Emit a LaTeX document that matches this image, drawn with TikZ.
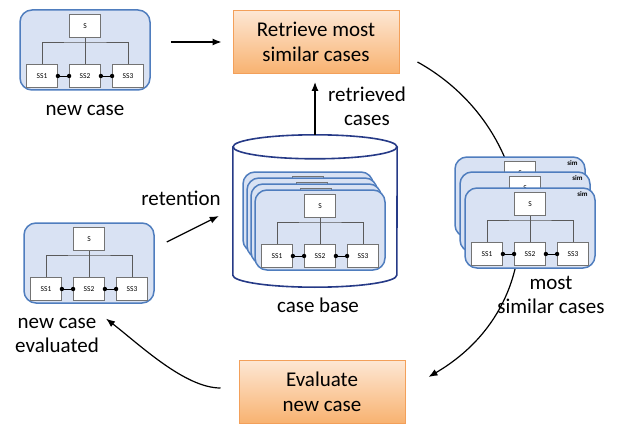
\documentclass[tikz,border=0pt]{standalone}
\usepackage{fontspec}
\setmainfont{Carlito}
\usetikzlibrary{arrows.meta,positioning,calc}
\definecolor{cardfill}{RGB}{217,226,243}
\definecolor{cardline}{RGB}{79,125,190}
\definecolor{cylline}{RGB}{38,58,135}
\definecolor{subline}{RGB}{115,115,115}
\definecolor{treegray}{RGB}{90,90,90}
\definecolor{boxtop}{RGB}{253,231,212}
\definecolor{boxbottom}{RGB}{248,178,112}
\definecolor{boxline}{RGB}{243,160,90}
\tikzset{
      cardbox/.style  = {draw=cardline, fill=cardfill, line width=1.5pt, rounded corners=12pt,
                         minimum width=130pt, minimum height=80pt},
      subbox/.style   = {draw=subline, fill=white, line width=0.8pt, inner sep=0pt,
                         minimum width=31pt, minimum height=23pt, font=\fontsize{7.5}{8}\selectfont},
      treeline/.style = {draw=treegray, line width=0.8pt},
      dotlink/.style  = {black, line width=0.9pt},
      stepbox/.style  = {draw=boxline, line width=1pt, top color=boxtop, bottom color=boxbottom,
                         minimum width=166pt, minimum height=63pt, align=center,
                         font=\fontsize{21}{25}\selectfont},
      caption/.style  = {align=center, inner sep=0pt, font=\fontsize{21}{24}\selectfont},
      simtag/.style   = {inner sep=0pt, font=\bfseries\fontsize{7}{8}\selectfont},
      flow/.style     = {black, line width=1.2pt, -{Latex[length=9pt,width=7pt]}},
      cylline/.style  = {draw=cylline, line width=1.6pt},
      pics/casecard/.style = {code={
          \node [cardbox] (-card) at (0,0) {};
          \node [subbox] (-s)   at (0,-24)  {S};
          \node [subbox] (-ss1) at (-43,26) {SS1};
          \node [subbox] (-ss2) at (0,26)   {SS2};
          \node [subbox] (-ss3) at (43,26)  {SS3};
          \draw [treeline] (-s) -- (-ss2);
          \draw [treeline] (-ss1.north) |- (0,-8) -| (-ss3.north);
          \draw [dotlink] (-ss1) -- (-ss2) (-ss2) -- (-ss3);
          \foreach \a in {-ss1.east, -ss2.west, -ss2.east, -ss3.west}
              \fill (\a) circle (2.2pt);
      }},
    }

\begin{document}
\begin{tikzpicture}[x=1pt,y=-1pt]
    \useasboundingbox (0,0) rectangle (622,428);

    % new case and retrieval
    \pic (nc) at (85,50) {casecard};
    \node [caption] (nclabel) at (85,110) {new case};
    \node [stepbox] (retrieve) at (316,42) {Retrieve most\\similar cases};
    \draw [flow, shorten <=20pt, shorten >=11pt] (nc-card.east |- retrieve.west) -- (retrieve.west);

    % case base
    \node [minimum width=164pt, minimum height=152pt, inner sep=0pt] (casebase) at (315,211) {};
    \draw [cylline, fill=white] ([yshift=-12pt]casebase.north west)
        -- ([yshift=12pt]casebase.south west)
        arc [start angle=180, end angle=360, x radius=82pt, y radius=12pt]
        -- ([yshift=-12pt]casebase.north east);
    \draw [cylline] ([yshift=-12pt]casebase.north) ellipse [x radius=82pt, y radius=12pt];
    \foreach \i/\cx/\cy in {1/308/212, 2/312/218, 3/316/224, 4/320/230}
        \pic (cb\i) at (\cx,\cy) {casecard};
    \node [caption] (cblabel) at (318,305) {case base};
    \draw [flow, shorten >=8pt] (casebase.north) -- (casebase.north |- retrieve.south);
    \node [caption] (rclabel) at (367,106) {retrieved\\cases};

    % evaluation and retention
    \node [stepbox] (evaluate) at (322,392) {Evaluate\\new case};
    \pic (ev) at (89,263) {casecard};
    \node [caption] (evlabel) at (57,335) {new case\\evaluated};
    \node [caption] (rtlabel) at (181,198) {retention};
    \draw [flow] ($(ev-card.east)+(12,-21)$) -- ($(casebase.west)+(-14,5)$);
    \draw [flow] ($(evaluate.west)+(-18,-4)$) .. controls (185,388) and (140,345) .. ($(evlabel.north east)+(7,1)$);

    % most similar cases
    \draw [flow] ($(retrieve.east)+(18,20)$) .. controls (540,130) and (560,300) .. ($(evaluate.east)+(23,-15)$);
    \foreach \i/\cx/\cy in {1/520/197, 2/525/212, 3/530/228} {
        \pic (ms\i) at (\cx,\cy) {casecard};
        \node [simtag, below left=4pt and 8pt of ms\i-card.north east] {sim};
    }
    \node [caption] (mslabel) at (551,295) {most\\similar cases};
\end{tikzpicture}
\end{document}
